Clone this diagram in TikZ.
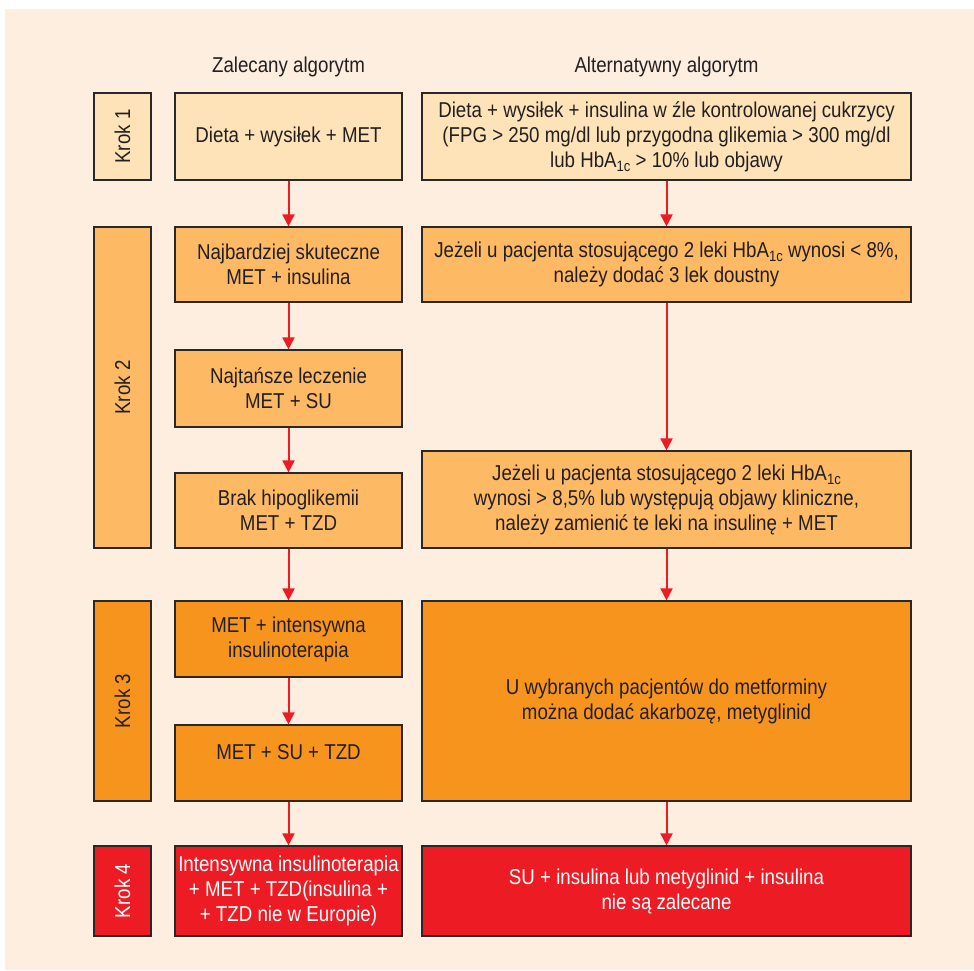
\documentclass[tikz,border=0pt]{standalone}
\usepackage{fontspec}
\setmainfont[FakeStretch=0.87]{Liberation Sans}
\usetikzlibrary{arrows.meta}
\definecolor{bgc}{RGB}{253,238,224}
\definecolor{c1}{RGB}{254,227,184}
\definecolor{c2}{RGB}{253,185,99}
\definecolor{c3}{RGB}{247,148,29}
\definecolor{c4}{RGB}{237,28,36}
\definecolor{txt}{RGB}{35,31,32}
\definecolor{edge}{RGB}{40,40,40}
\newcommand{\hbsub}{HbA\raisebox{-4pt}{\fontsize{15}{15}\selectfont 1c}}
\tikzset{
  box/.style={draw=edge, line width=1.2pt, inner sep=0pt, align=center, text=txt,
    font=\fontsize{21.5}{25}\selectfont},
  lbox/.style={box, minimum width=227pt},
  rbox/.style={box, minimum width=489pt},
  kbox/.style={box, minimum width=57pt},
  wtext/.style={text=white},
  head/.style={text=txt, font=\fontsize{21.5}{25}\selectfont},
  arr/.style={draw=c4, line width=2pt, -{Triangle[width=12pt,length=12pt]}}
}
\begin{document}
\begin{tikzpicture}[x=1pt,y=-1pt]
\useasboundingbox (0,0) rectangle (974,970);
\fill[bgc] (5,9) rectangle (974,970);
% headers
\node[head] (h1) at (288.5,67) {Zalecany algorytm};
\node[head] (h2) at (666.5,67) {Alternatywny algorytm};
% Krok labels
\node[kbox, fill=c1, minimum height=87pt] (k1) at (122.5,136.5) {};
\node[head, rotate=90] at (k1.center) {Krok 1};
\node[kbox, fill=c2, minimum height=321pt] (k2) at (122.5,387.5) {};
\node[head, rotate=90] at (k2.center) {Krok 2};
\node[kbox, fill=c3, minimum height=200pt] (k3) at (122.5,701) {};
\node[head, rotate=90] at (k3.center) {Krok 3};
\node[kbox, fill=c4, minimum height=90pt] (k4) at (122.5,891) {};
\node[head, rotate=90, text=white] at (k4.center) {Krok 4};
% left column
\node[lbox, fill=c1, minimum height=87pt] (l1) at (288.5,136.5) {Dieta + wysiłek + MET};
\node[lbox, fill=c2, minimum height=75pt] (l2) at (288.5,264.5) {Najbardziej skuteczne\\MET + insulina};
\node[lbox, fill=c2, minimum height=77pt] (l3) at (288.5,388.5) {Najtańsze leczenie\\MET + SU};
\node[lbox, fill=c2, minimum height=75pt] (l4) at (288.5,510.5) {Brak hipoglikemii\\MET + TZD};
\node[lbox, fill=c3, minimum height=76pt] (l5) at (288.5,639) {MET + intensywna\\insulinoterapia};
\node[lbox, fill=c3, minimum height=76pt] (l6) at (288.5,763) {MET + SU + TZD\\[-2pt]~};
\node[lbox, fill=c4, minimum height=90pt, wtext] (l7) at (288.5,891) {Intensywna insulinoterapia\\+ MET + TZD(insulina +\\+ TZD nie w Europie)};
% right column
\node[rbox, fill=c1, minimum height=87pt] (r1) at (666.5,136.5) {Dieta + wysiłek + insulina w źle kontrolowanej cukrzycy\\(FPG > 250 mg/dl lub przygodna glikemia > 300 mg/dl\\lub \hbsub{} > 10\% lub objawy};
\node[rbox, fill=c2, minimum height=75pt] (r2) at (666.5,264.5) {Jeżeli u pacjenta stosującego 2 leki \hbsub{} wynosi < 8\%,\\należy dodać 3 lek doustny};
\node[rbox, fill=c2, minimum height=97pt] (r3) at (666.5,499.5) {Jeżeli u pacjenta stosującego 2 leki \hbsub\\wynosi > 8,5\% lub występują objawy kliniczne,\\należy zamienić te leki na insulinę + MET};
\node[rbox, fill=c3, minimum height=200pt] (r4) at (666.5,701) {U wybranych pacjentów do metforminy\\można dodać akarbozę, metyglinid};
\node[rbox, fill=c4, minimum height=90pt, wtext] (r5) at (666.5,891) {SU + insulina lub metyglinid + insulina\\nie są zalecane};
% arrows
\draw[arr] (l1.south) -- (l2.north);
\draw[arr] (l2.south) -- (l3.north);
\draw[arr] (l3.south) -- (l4.north);
\draw[arr] (l4.south) -- (l5.north);
\draw[arr] (l5.south) -- (l6.north);
\draw[arr] (l6.south) -- (l7.north);
\draw[arr] (r1.south) -- (r2.north);
\draw[arr] (r2.south) -- (r3.north);
\draw[arr] (r3.south) -- (r4.north);
\draw[arr] (r4.south) -- (r5.north);
\end{tikzpicture}
\end{document}
